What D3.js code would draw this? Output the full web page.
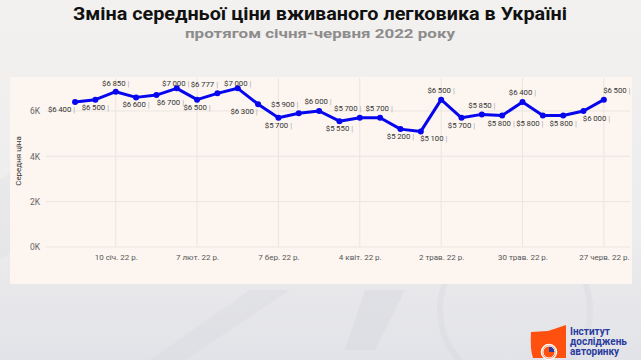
<!DOCTYPE html>
<html><head><meta charset="utf-8">
<script src="https://cdn.jsdelivr.net/npm/d3@7"></script>
<style>
html,body{margin:0;padding:0;overflow:hidden;}
body{width:641px;height:360px;}
text{font-family:Roboto,"Noto Sans",sans-serif;}
</style></head>
<body>
<svg id="chart" width="641" height="360"></svg>
<script>
// ---- data ----
const dates = ["2021-12-27","2022-01-03","2022-01-10","2022-01-17","2022-01-24","2022-01-31","2022-02-07","2022-02-14","2022-02-21","2022-02-28","2022-03-07","2022-03-14","2022-03-21","2022-03-28","2022-04-04","2022-04-11","2022-04-18","2022-04-25","2022-05-02","2022-05-09","2022-05-16","2022-05-23","2022-05-30","2022-06-06","2022-06-13","2022-06-20","2022-06-27"];
const prices = [6400,6500,6850,6600,6700,7000,6500,6777,7000,6300,5700,5900,6000,5550,5700,5700,5200,5100,6500,5700,5850,5800,6400,5800,5800,6000,6500];
const labelSide = ["b","b","a","b","b","a","b","a","a","b","b","a","a","b","a","a","b","b","a","b","a","b","a","b","b","b","a"];
const labelShift = [-13.5,0,0,0,14,-1,0,-13,0,-14,0,-14,-1,0,-12,-1,0,13,0,0,0,-1,0,-13,0,13,13];
const xTickDates = ["2022-01-10","2022-02-07","2022-03-07","2022-04-04","2022-05-02","2022-05-30","2022-06-27"];
const xTickLabels = ["10 січ. 22 р.","7 лют. 22 р.","7 бер. 22 р.","4 квіт. 22 р.","2 трав. 22 р.","30 трав. 22 р.","27 черв. 22 р."];
const yTicks = [0,2000,4000,6000];
const yTickLabels = ["0K","2K","4K","6K"];
const title = "Зміна середньої ціни вживаного легковика в Україні";
const subtitle = "протягом січня-червня 2022 року";
const yTitle = "Середня ціна";

const parse = d3.timeParse("%Y-%m-%d");
const svg = d3.select("#chart");

// background
const defs = svg.append("defs");
const g1 = defs.append("linearGradient").attr("id","bg").attr("x1",0).attr("y1",0).attr("x2",0).attr("y2",1);
g1.append("stop").attr("offset","0").attr("stop-color","#f3f1ef");
g1.append("stop").attr("offset","0.6").attr("stop-color","#eeedee");
g1.append("stop").attr("offset","1").attr("stop-color","#e2e3e8");
svg.append("rect").attr("width",641).attr("height",360).attr("fill","url(#bg)");
// faint decorative shapes
const deco = svg.append("g").attr("opacity",0.35);
deco.append("path").attr("d","M150,360 L250,290 L290,290 L185,360Z").attr("fill","#d8d9de");
deco.append("path").attr("d","M365,290 L405,290 L375,350 L345,350Z").attr("fill","#d3d4da");
deco.append("path").attr("d","M0,180 L40,150 L40,230 L0,260Z").attr("fill","#dedfe3");
deco.append("circle").attr("cx",515).attr("cy",310).attr("r",75).attr("fill","none").attr("stroke","#d6d7dc").attr("stroke-width",6);

// title
svg.append("text").attr("x",320).attr("y",20).attr("text-anchor","middle")
  .attr("font-size",19).attr("font-weight",700).attr("fill","#111")
  .attr("textLength",494).attr("lengthAdjust","spacingAndGlyphs").text(title);
svg.append("text").attr("x",320).attr("y",38).attr("text-anchor","middle")
  .attr("font-size",13.5).attr("font-weight",700).attr("fill","#8c8c8c")
  .attr("textLength",270).attr("lengthAdjust","spacingAndGlyphs").text(subtitle);

// panel
svg.append("rect").attr("x",10).attr("y",77).attr("width",622).attr("height",207).attr("fill","#fcf5f0");

const pLeft=46, pRight=630, pTop=78, pBottom=247;
const x = d3.scaleTime().domain([parse("2021-12-17"), parse("2022-07-06")]).range([pLeft,pRight]);
const y = d3.scaleLinear().domain([0,7455]).range([pBottom,pTop]);

// grid
const grid = svg.append("g");
grid.selectAll("line.h").data(yTicks).join("line").attr("class","h")
  .attr("x1",pLeft).attr("x2",pRight).attr("y1",d=>y(d)).attr("y2",d=>y(d))
  .attr("stroke","#ebe5df").attr("stroke-width",1);
grid.selectAll("line.v").data(xTickDates).join("line").attr("class","v")
  .attr("x1",d=>x(parse(d))).attr("x2",d=>x(parse(d))).attr("y1",pTop).attr("y2",pBottom)
  .attr("stroke","#ebe5df").attr("stroke-width",1);

// axes
const yAxis = d3.axisLeft(y).tickValues(yTicks).tickSize(0).tickPadding(6)
  .tickFormat((d,i)=>yTickLabels[i]);
const ya = svg.append("g").attr("transform",`translate(${pLeft},0)`).call(yAxis);
ya.select(".domain").remove();
ya.selectAll("text").attr("font-size",8.5).attr("fill","#666").attr("font-family","Roboto");

const xAxis = d3.axisBottom(x).tickValues(xTickDates.map(parse)).tickSize(0).tickPadding(7)
  .tickFormat((d,i)=>xTickLabels[i]);
const xa = svg.append("g").attr("transform",`translate(0,${pBottom})`).call(xAxis);
xa.select(".domain").remove();
xa.selectAll("text").attr("font-size",8).attr("fill","#555").attr("font-family","Roboto");

svg.append("text").attr("transform",`translate(21,161) rotate(-90)`).attr("text-anchor","middle")
  .attr("font-size",8).attr("fill","#333").text(yTitle);

// line
const pts = dates.map((d,i)=>({date:parse(d), v:prices[i], side:labelSide[i], dx:labelShift[i]}));
const line = d3.line().x(d=>x(d.date)).y(d=>y(d.v));
svg.append("path").datum(pts).attr("d",line).attr("fill","none")
  .attr("stroke","#0606ee").attr("stroke-width",3).attr("stroke-linejoin","round");
svg.selectAll("circle.pt").data(pts).join("circle").attr("class","pt")
  .attr("cx",d=>x(d.date)).attr("cy",d=>y(d.v)).attr("r",3).attr("fill","#0606ee");

// labels
const fmt = v => "$" + d3.format(",")(v).replace(",", "\u2009");
const lab = svg.selectAll("text.lab").data(pts).join("text").attr("class","lab")
  .attr("x",d=>x(d.date)+d.dx)
  .attr("y",d=> d.side==="a" ? Math.max(86, y(d.v)-6.5) : y(d.v)+10)
  .attr("text-anchor","middle").attr("font-size",7.8).attr("fill","#333");
lab.append("tspan").text(d=>fmt(d.v));
lab.append("tspan").attr("fill","#aaa").text(" |");

// logo
const logo = svg.append("g");
logo.append("path").attr("d","M531,332 L548,331 L566,325 L566,358 L533,358 Q530,350 531,332Z").attr("fill","#ff5010");
logo.append("circle").attr("cx",549).attr("cy",352).attr("r",7.5).attr("fill","#ff5010").attr("stroke","#fff").attr("stroke-width",1.5);
logo.append("path").attr("d","M549,352 L549,346 A6,6 0 0 1 555,352Z").attr("fill","#2a3a9e");
logo.append("circle").attr("cx",549).attr("cy",352).attr("r",6).attr("fill","none").attr("stroke","#fff").attr("stroke-width",1);
const lt = ["Інститут","досліджень","авторинку"];
logo.selectAll("text").data(lt).join("text").attr("x",570).attr("y",(d,i)=>335+i*10)
  .attr("font-size",10).attr("font-weight",700).attr("fill","#2b3c9e").text(d=>d);
</script>
</body></html>
